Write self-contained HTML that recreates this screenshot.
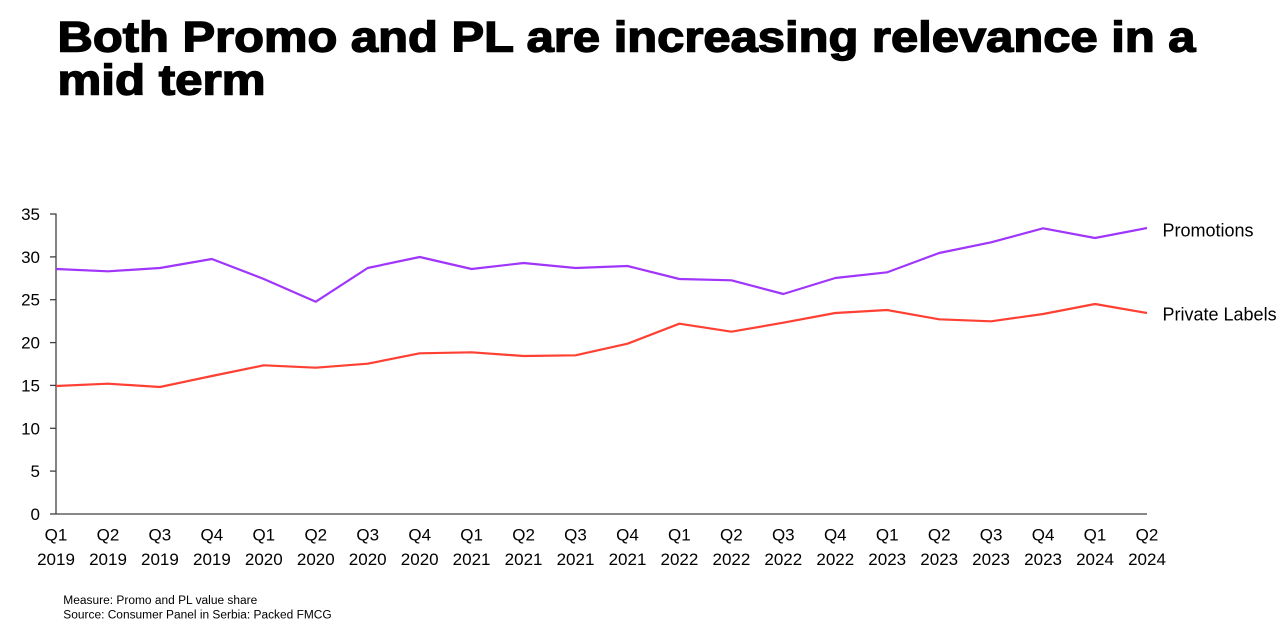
<!DOCTYPE html>
<html>
<head>
<meta charset="utf-8">
<style>
  html, body { margin: 0; padding: 0; background: #ffffff; }
  body { width: 1280px; height: 641px; overflow: hidden; }
  svg { display: block; }
  text { font-family: "Liberation Sans", Arial, sans-serif; fill: #000; }
</style>
</head>
<body>
<svg width="1280" height="641" viewBox="0 0 1280 641" xmlns="http://www.w3.org/2000/svg">
  <rect x="0" y="0" width="1280" height="641" fill="#ffffff"/>

  <!-- Title -->
  <text x="57.5" y="51.5" font-size="43" font-weight="bold" stroke="#000" stroke-width="1.4" textLength="1138" lengthAdjust="spacingAndGlyphs">Both Promo and PL are increasing relevance in a</text>
  <text x="57.5" y="94.5" font-size="43" font-weight="bold" stroke="#000" stroke-width="1.4" textLength="208" lengthAdjust="spacingAndGlyphs">mid term</text>

  <!-- Axes -->
  <g stroke="#404040" stroke-width="1.3" fill="none">
    <line x1="56" y1="213.5" x2="56" y2="514"/>
    <line x1="55.5" y1="514" x2="1147" y2="514"/>
    <line x1="50" y1="214" x2="56" y2="214"/>
    <line x1="50" y1="256.9" x2="56" y2="256.9"/>
    <line x1="50" y1="299.7" x2="56" y2="299.7"/>
    <line x1="50" y1="342.6" x2="56" y2="342.6"/>
    <line x1="50" y1="385.4" x2="56" y2="385.4"/>
    <line x1="50" y1="428.3" x2="56" y2="428.3"/>
    <line x1="50" y1="471.1" x2="56" y2="471.1"/>
    <line x1="50" y1="514" x2="56" y2="514"/>
  </g>

  <!-- Y labels -->
  <g font-size="17" text-anchor="end">
    <text x="40" y="220">35</text>
    <text x="40" y="262.9">30</text>
    <text x="40" y="305.7">25</text>
    <text x="40" y="348.6">20</text>
    <text x="40" y="391.4">15</text>
    <text x="40" y="434.3">10</text>
    <text x="40" y="477.1">5</text>
    <text x="40" y="520">0</text>
  </g>

  <!-- X labels -->
  <g font-size="17" text-anchor="middle">
    <text x="56" y="540.7">Q1</text><text x="56" y="565">2019</text>
    <text x="108" y="540.7">Q2</text><text x="108" y="565">2019</text>
    <text x="159.9" y="540.7">Q3</text><text x="159.9" y="565">2019</text>
    <text x="211.9" y="540.7">Q4</text><text x="211.9" y="565">2019</text>
    <text x="263.8" y="540.7">Q1</text><text x="263.8" y="565">2020</text>
    <text x="315.8" y="540.7">Q2</text><text x="315.8" y="565">2020</text>
    <text x="367.7" y="540.7">Q3</text><text x="367.7" y="565">2020</text>
    <text x="419.7" y="540.7">Q4</text><text x="419.7" y="565">2020</text>
    <text x="471.6" y="540.7">Q1</text><text x="471.6" y="565">2021</text>
    <text x="523.6" y="540.7">Q2</text><text x="523.6" y="565">2021</text>
    <text x="575.5" y="540.7">Q3</text><text x="575.5" y="565">2021</text>
    <text x="627.5" y="540.7">Q4</text><text x="627.5" y="565">2021</text>
    <text x="679.4" y="540.7">Q1</text><text x="679.4" y="565">2022</text>
    <text x="731.4" y="540.7">Q2</text><text x="731.4" y="565">2022</text>
    <text x="783.3" y="540.7">Q3</text><text x="783.3" y="565">2022</text>
    <text x="835.3" y="540.7">Q4</text><text x="835.3" y="565">2022</text>
    <text x="887.2" y="540.7">Q1</text><text x="887.2" y="565">2023</text>
    <text x="939.2" y="540.7">Q2</text><text x="939.2" y="565">2023</text>
    <text x="991.1" y="540.7">Q3</text><text x="991.1" y="565">2023</text>
    <text x="1043.1" y="540.7">Q4</text><text x="1043.1" y="565">2023</text>
    <text x="1095" y="540.7">Q1</text><text x="1095" y="565">2024</text>
    <text x="1147" y="540.7">Q2</text><text x="1147" y="565">2024</text>
  </g>

  <!-- Promotions series -->
  <polyline fill="none" stroke="#A035FB" stroke-width="2.2" stroke-linejoin="round"
    points="56,269 108,271.3 159.9,268 211.9,259 263.8,279 315.8,301.7 367.7,268 419.7,257 471.6,269 523.6,263 575.5,268 627.5,266 679.4,279 731.4,280.3 783.3,294 835.3,278 887.2,272.3 939.2,253 991.1,242.3 1043.1,228.3 1095,238 1147,228"/>

  <!-- Private Labels series -->
  <polyline fill="none" stroke="#FF4033" stroke-width="2.2" stroke-linejoin="round"
    points="56,386 108,383.7 159.9,387 211.9,376 263.8,365.3 315.8,367.7 367.7,363.7 419.7,353.3 471.6,352.3 523.6,356 575.5,355.3 627.5,343.7 679.4,323.7 731.4,331.7 783.3,322.7 835.3,313 887.2,310 939.2,319.3 991.1,321.3 1043.1,314 1095,304 1147,313"/>

  <!-- Series labels -->
  <text x="1162.5" y="236.7" font-size="18">Promotions</text>
  <text x="1162.5" y="320.7" font-size="18">Private Labels</text>

  <!-- Footnotes -->
  <text x="63.3" y="604" font-size="11.5" textLength="194" lengthAdjust="spacingAndGlyphs">Measure: Promo and PL value share</text>
  <text x="63.3" y="618.3" font-size="11.5" textLength="268.4" lengthAdjust="spacingAndGlyphs">Source: Consumer Panel in Serbia: Packed FMCG</text>
</svg>
</body>
</html>
